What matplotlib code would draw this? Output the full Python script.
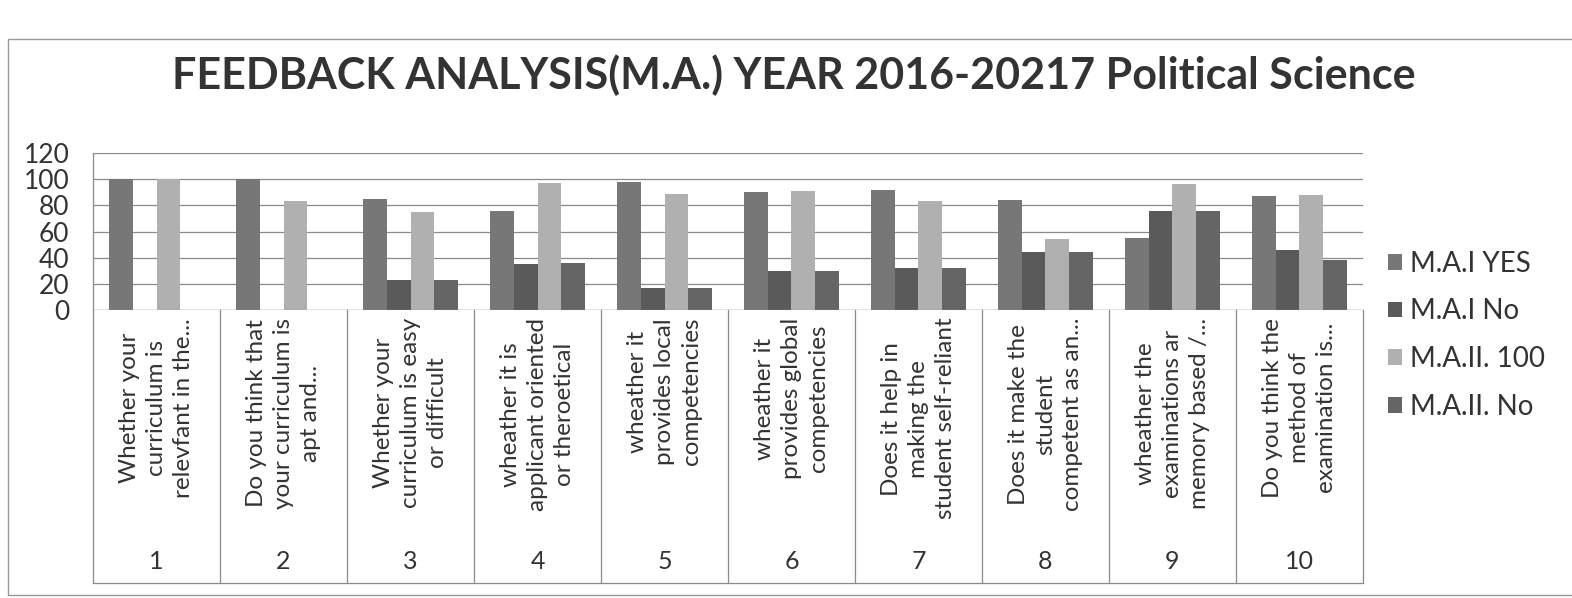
import numpy as np
import matplotlib
matplotlib.use("Agg")
import matplotlib.pyplot as plt
from matplotlib.patches import Rectangle

plt.rcParams["font.family"] = ["Lato", "DejaVu Sans"]

# values
question_numbers = ["1", "2", "3", "4", "5", "6", "7", "8", "9", "10"]
question_labels = [
    "Whether your\ncurriculum is\nrelevfant in the...",
    "Do you think that\nyour curriculum is\napt and...",
    "Whether your\ncurriculum is easy\nor difficult",
    "wheather it is\napplicant oriented\nor theroetical",
    "wheather it\nprovides local\ncompetencies",
    "wheather it\nprovides global\ncompetencies",
    "Does it help in\nmaking the\nstudent self-reliant",
    "Does it make the\nstudent\ncompetent as an...",
    "wheather the\nexaminations ar\nmemory based /...",
    "Do you think the\nmethod of\nexamination is...",
]
mai_yes = [100, 100, 85, 76, 98, 90, 92, 84, 55, 87]
mai_no = [0, 0, 23, 35, 17, 30, 32, 44, 76, 46]
maii_100 = [100, 83, 75, 97, 89, 91, 83, 54, 96, 88]
maii_no = [0, 0, 23, 36, 17, 30, 32, 44, 76, 38]

series_names = ["M.A.I YES", "M.A.I No", "M.A.II. 100", "M.A.II. No"]
series_colors = ["#777777", "#5a5a5a", "#b0b0b0", "#656565"]

TITLE = "FEEDBACK ANALYSIS(M.A.) YEAR 2016-20217 Political Science"


def draw_bars(ax):
    x = np.arange(len(question_numbers))
    width = 0.1875
    series = [mai_yes, mai_no, maii_100, maii_no]
    for i, (vals, name, color) in enumerate(zip(series, series_names, series_colors)):
        ax.bar(x + (i - 1.5) * width, vals, width, color=color, label=name, zorder=3)
    ax.set_xlim(-0.5, len(question_numbers) - 0.5)


def draw_category_axis(ax):
    # multi-level category axis: boxed cells below the plot, as in Excel
    n = len(question_numbers)
    bottom = -1.74
    trans = ax.get_xaxis_transform()
    for b in np.arange(n + 1) - 0.5:
        ax.plot([b, b], [0, bottom], transform=trans, color="#8a8a8a",
                linewidth=0.9, clip_on=False)
    ax.plot([-0.5, n - 0.5], [bottom, bottom], transform=trans, color="#8a8a8a",
            linewidth=0.9, clip_on=False)
    for i, (lab, num) in enumerate(zip(question_labels, question_numbers)):
        ax.text(i, -0.05, lab, transform=trans, rotation=90, ha="center", va="top",
                multialignment="center", fontsize=17.5, color="#333333",
                linespacing=1.35)
        ax.text(i, -1.6, num, transform=trans, ha="center", va="center",
                fontsize=18, color="#333333")
    ax.set_xticks([])


def main():
    fig = plt.figure(figsize=(15.72, 5.98), dpi=100)
    ax = fig.add_axes([0.0592, 0.4816, 0.8078, 0.2625])

    draw_bars(ax)
    draw_category_axis(ax)

    ax.set_ylim(0, 120)
    ax.set_yticks(range(0, 121, 20))
    ax.tick_params(axis="y", length=0, labelsize=19, labelcolor="#333333", pad=17)
    ax.yaxis.grid(True, color="#8a8a8a", linewidth=0.9, zorder=0)
    for side in ["top", "right", "bottom"]:
        ax.spines[side].set_visible(False)
    ax.spines["left"].set_color("#8a8a8a")
    ax.spines["left"].set_linewidth(0.9)
    ax.axhline(0, color="#8a8a8a", linewidth=0.9, zorder=4)

    fig.text(0.505, 0.875, TITLE, ha="center", va="center", fontsize=31,
             fontweight="bold", color="#333333")

    ax.legend(loc="center left", bbox_to_anchor=(1.0, -0.16), frameon=False,
              fontsize=20, handlelength=0.5, handleheight=0.5,
              handletextpad=0.3, labelspacing=0.78, labelcolor="#333333")

    # outer chart border
    fig.patches.append(Rectangle((0.005, 0.005), 1.2, 0.93, transform=fig.transFigure,
                                 fill=False, edgecolor="#999999", linewidth=1.0))

    fig.savefig("out.png", dpi=100)


if __name__ == "__main__":
    main()
